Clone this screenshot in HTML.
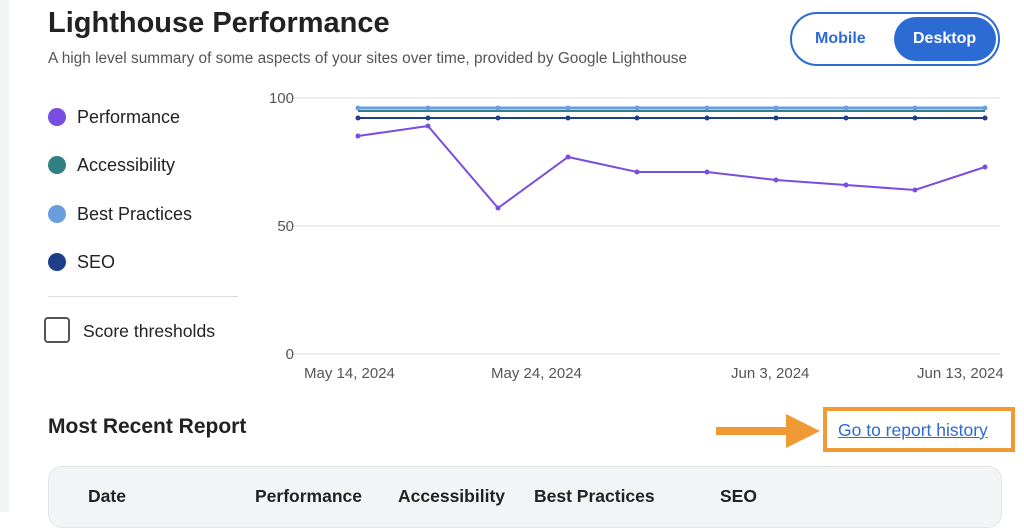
<!DOCTYPE html>
<html><head><style>
body{margin:0;width:1024px;height:512px;background:#fff;font-family:"Liberation Sans",sans-serif;position:relative;overflow:hidden}
.a{position:absolute;white-space:nowrap}
.dot{position:absolute;width:18px;height:18px;border-radius:50%}
.lg{font-size:18px;color:#222}
</style></head><body>
<div class="a" style="left:0;top:0;width:9px;height:512px;background:#f3f4f6"></div>
<div class="a" style="left:48px;top:7px;font-size:29px;font-weight:bold;color:#222">Lighthouse Performance</div>
<div class="a" style="left:48px;top:50px;font-size:15.4px;color:#555">A high level summary of some aspects of your sites over time, provided by Google Lighthouse</div>
<div class="a" style="left:790px;top:12px;width:206px;height:50px;border:2px solid #2d6bd4;border-radius:28px"></div>
<div class="a" style="left:815px;top:30px;font-size:16px;font-weight:bold;color:#2d6bd4">Mobile</div>
<div class="a" style="left:894px;top:17px;width:102px;height:44px;background:#2d6bd4;border-radius:22px"></div>
<div class="a" style="left:913px;top:30px;font-size:16px;font-weight:bold;color:#fff">Desktop</div>
<div class="dot" style="left:48px;top:108px;background:#7a4de2"></div><div class="a lg" style="left:77px;top:107px">Performance</div>
<div class="dot" style="left:48px;top:156px;background:#2f8083"></div><div class="a lg" style="left:77px;top:155px">Accessibility</div>
<div class="dot" style="left:48px;top:205px;background:#6a9de0"></div><div class="a lg" style="left:77px;top:204px">Best Practices</div>
<div class="dot" style="left:48px;top:253px;background:#1d3f8a"></div><div class="a lg" style="left:77px;top:252px">SEO</div>
<div class="a" style="left:48px;top:296px;width:190px;height:1px;background:#ddd"></div>
<div class="a" style="left:44px;top:317px;width:26px;height:26px;border:2px solid #555;border-radius:4px;box-sizing:border-box"></div>
<div class="a lg" style="left:83px;top:321px;font-size:17.6px">Score thresholds</div>
<svg class="a" style="left:0;top:0" width="1024" height="400">
<g stroke="#e6e6e6" stroke-width="1.5"><line x1="285" y1="98" x2="1000" y2="98"/><line x1="285" y1="226" x2="1000" y2="226"/><line x1="285" y1="354" x2="1000" y2="354"/></g>
<g font-size="15" fill="#555" font-family="Liberation Sans"><text x="294" y="103" text-anchor="end">100</text><text x="294" y="231" text-anchor="end">50</text><text x="294" y="359" text-anchor="end">0</text>
<text x="304" y="378">May 14, 2024</text><text x="491" y="378">May 24, 2024</text><text x="731" y="378">Jun 3, 2024</text><text x="917" y="378">Jun 13, 2024</text></g>
<polyline fill="none" stroke="#6a9de0" stroke-width="3" points="358,108 985,108"/>
<polyline fill="none" stroke="#2f8083" stroke-width="2" points="358,111 985,111"/>
<polyline fill="none" stroke="#1d3f8a" stroke-width="2" points="358,118 985,118"/>
<polyline fill="none" stroke="#7a4de2" stroke-width="2" points="358,136 428,126 498,208 568,157 637,172 707,172 776,180 846,185 915,190 985,167"/>
<g fill="#7a4de2"><circle cx="358" cy="136" r="2.5"/><circle cx="428" cy="126" r="2.5"/><circle cx="498" cy="208" r="2.5"/><circle cx="568" cy="157" r="2.5"/><circle cx="637" cy="172" r="2.5"/><circle cx="707" cy="172" r="2.5"/><circle cx="776" cy="180" r="2.5"/><circle cx="846" cy="185" r="2.5"/><circle cx="915" cy="190" r="2.5"/><circle cx="985" cy="167" r="2.5"/></g>
<g fill="#1d3f8a"><circle cx="358" cy="118" r="2.5"/><circle cx="428" cy="118" r="2.5"/><circle cx="498" cy="118" r="2.5"/><circle cx="568" cy="118" r="2.5"/><circle cx="637" cy="118" r="2.5"/><circle cx="707" cy="118" r="2.5"/><circle cx="776" cy="118" r="2.5"/><circle cx="846" cy="118" r="2.5"/><circle cx="915" cy="118" r="2.5"/><circle cx="985" cy="118" r="2.5"/></g>
<g fill="#6a9de0"><circle cx="358" cy="108" r="2.5"/><circle cx="428" cy="108" r="2.5"/><circle cx="498" cy="108" r="2.5"/><circle cx="568" cy="108" r="2.5"/><circle cx="637" cy="108" r="2.5"/><circle cx="707" cy="108" r="2.5"/><circle cx="776" cy="108" r="2.5"/><circle cx="846" cy="108" r="2.5"/><circle cx="915" cy="108" r="2.5"/><circle cx="985" cy="108" r="2.5"/></g>
</svg>
<div class="a" style="left:48px;top:415px;font-size:21px;font-weight:bold;color:#222">Most Recent Report</div>
<div class="a" style="left:716px;top:427px;width:72px;height:8px;background:#f09a35"></div>
<svg class="a" style="left:786px;top:414px" width="36" height="34"><polygon points="0,0 34,17 0,34" fill="#f09a35"/></svg>
<div class="a" style="left:823px;top:407px;width:192px;height:45px;border:4px solid #f09a35;box-sizing:border-box"></div>
<div class="a" style="left:838px;top:420px;font-size:17.5px;color:#2d6bd4;text-decoration:underline">Go to report history</div>
<div class="a" style="left:48px;top:466px;width:952px;height:60px;background:#f3f4f6;border:1px solid #e3e4e7;border-radius:14px"></div>
<div class="a" style="top:486px;left:88px;font-size:17.5px;font-weight:bold;color:#222">Date</div>
<div class="a" style="top:486px;left:255px;font-size:17.5px;font-weight:bold;color:#222">Performance</div>
<div class="a" style="top:486px;left:398px;font-size:17.5px;font-weight:bold;color:#222">Accessibility</div>
<div class="a" style="top:486px;left:534px;font-size:17.5px;font-weight:bold;color:#222">Best Practices</div>
<div class="a" style="top:486px;left:720px;font-size:17.5px;font-weight:bold;color:#222">SEO</div>
</body></html>
